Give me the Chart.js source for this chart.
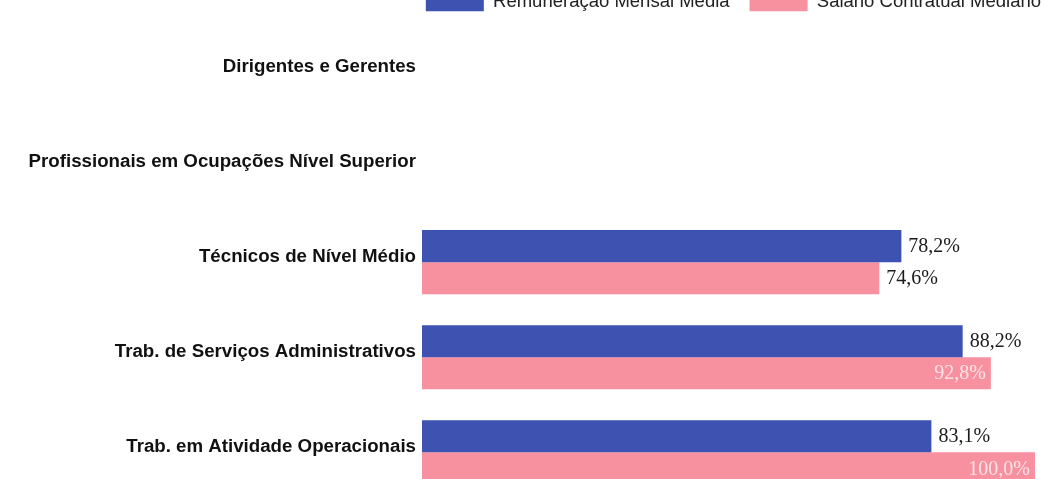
<!DOCTYPE html>
<html>
<head>
<meta charset="utf-8">
<script src="https://cdn.jsdelivr.net/npm/chart.js@4.4.1/dist/chart.umd.min.js"></script>
<style>
    html, body { margin: 0; padding: 0; background: #fff; overflow: hidden; }
    #wrap { position: absolute; left: 0; top: 0; width: 1044px; }
    canvas { display: block; }
</style>
</head>
<body>
<div id="wrap"><canvas id="grafico" width="1044" height="540"></canvas></div>
<script>
const categorias = [
    'Dirigentes e Gerentes',
    'Profissionais em Ocupações Nível Superior',
    'Técnicos de Nível Médio',
    'Trab. de Serviços Administrativos',
    'Trab. em Atividade Operacionais',
];
const remuneracaoMedia = [null, null, 78.2, 88.2, 83.1];
const salarioMediano = [null, null, 74.6, 92.8, 100.0];
const nomesSeries = ['Remuneração Mensal Média', 'Salário Contratual Mediano'];
const cores = ['#3d52b1', '#f7909f'];

const fonte = '"Liberation Sans", Arial, sans-serif';

// rotulos de valor: fora da barra, ou dentro quando a barra e longa
const rotulos = {
    id: 'rotulos',
    afterDatasetsDraw(chart) {
        const ctx = chart.ctx;
        ctx.save();
        ctx.font = '20px "Liberation Serif", "Times New Roman", serif';
        ctx.textBaseline = 'middle';
        chart.data.datasets.forEach((ds, i) => {
            chart.getDatasetMeta(i).data.forEach((bar, j) => {
                const v = ds.data[j];
                if (v == null) return;
                const txt = v.toFixed(1).replace('.', ',') + '%';
                if (v > 90) {
                    ctx.textAlign = 'right';
                    ctx.fillStyle = '#fde3e7';
                    ctx.fillText(txt, bar.x - 5, bar.y + 1);
                } else {
                    ctx.textAlign = 'left';
                    ctx.fillStyle = '#1b1b1b';
                    ctx.fillText(txt, bar.x + 7, bar.y + 1);
                }
            });
        });
        ctx.restore();
    }
};

// empurra a legenda para a direita e um pouco para cima, como no original
const legendaDireita = {
    id: 'legendaDireita',
    afterLayout(chart) {
        chart.legend.left += 26;
        chart.legend.right += 26;
        chart.legend.top -= 3;
    }
};

const data = {
    labels: categorias,
    datasets: [{
        label: nomesSeries[0],
        data: remuneracaoMedia,
        backgroundColor: cores[0],
    }, {
        label: nomesSeries[1],
        data: salarioMediano,
        backgroundColor: cores[1],
    }]
};

const config = {
    type: 'bar',
    data: data,
    options: {
        indexAxis: 'y',
        responsive: false,
        maintainAspectRatio: false,
        animation: false,
        categoryPercentage: 0.674,
        barPercentage: 1,
        layout: {
            padding: { left: 0, right: 9, top: 0, bottom: 0 },
        },
        plugins: {
            tooltip: { enabled: false },
            legend: {
                position: 'top',
                align: 'end',
                labels: {
                    boxWidth: 58,
                    boxHeight: 18,
                    padding: 20,
                    color: '#222',
                    font: { family: fonte, size: 18.5 },
                },
            },
        },
        scales: {
            x: {
                display: false,
                min: 0,
                max: 100,
            },
            y: {
                grid: { display: false, drawTicks: false },
                border: { display: false },
                ticks: {
                    padding: 6,
                    labelOffset: -5,
                    color: '#111',
                    font: { family: fonte, size: 18.7, weight: 'bold' },
                },
                afterFit(scale) {
                    scale.width = 422;
                },
            },
        },
    },
    plugins: [rotulos, legendaDireita],
};

// primeiro desenho so para medir a area do grafico;
// depois refaz com 95px por categoria
const canvas = document.getElementById('grafico');
let grafico = new Chart(canvas, config);
const area = grafico.chartArea;
const alturaInicial = canvas.height;
const sobra = alturaInicial - (area.bottom - area.top);
grafico.destroy();
canvas.width = 1044;
canvas.height = Math.round(sobra + 95 * categorias.length);
grafico = new Chart(canvas, config);
document.getElementById('wrap').style.top = (24.5 - grafico.chartArea.top) + 'px';
</script>
</body>
</html>
